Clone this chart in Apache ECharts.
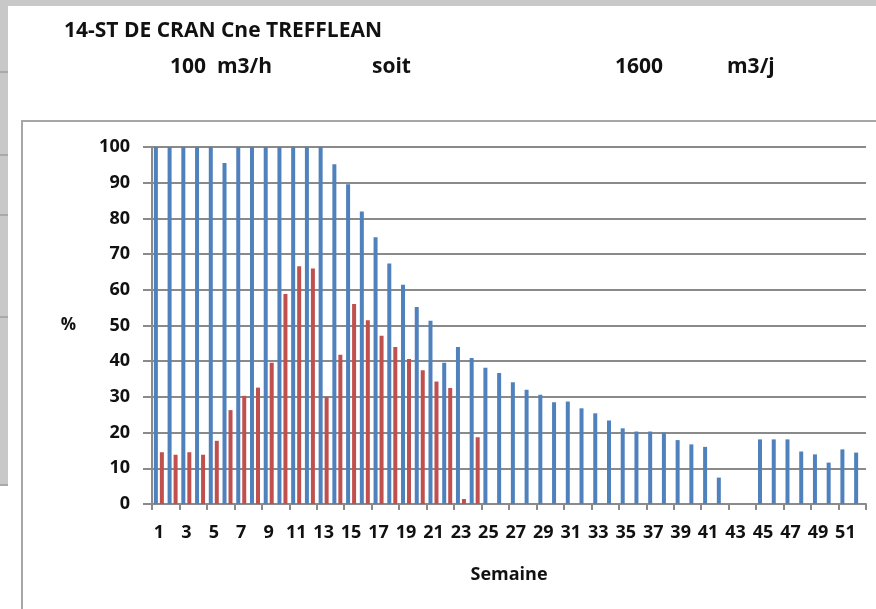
<!DOCTYPE html>
<html lang="fr">
<head>
    <meta charset="UTF-8">
    <title>14-ST DE CRAN Cne TREFFLEAN</title>
    <script src="https://cdn.jsdelivr.net/npm/echarts@6/dist/echarts.min.js"></script>
    <style>
        html, body { margin: 0; padding: 0; background: #fff; }
        #main { width: 876px; height: 609px; }
    </style>
</head>
<body>
<div id="main"></div>

<script>
    // semaines 1..52
    var semaines = [];
    for (var i = 1; i <= 52; i++) {
        semaines.push(String(i));
    }

    // serie bleue (%)
    var serieBleue = [
        100, 100, 100, 100, 100, 95.5, 100, 100, 100, 100,
        100, 100, 100, 95.2, 89.6, 81.9, 74.7, 67.4, 61.4, 55.2,
        51.3, 39.6, 44.0, 40.9, 38.2, 36.7, 34.1, 32.0, 30.6, 28.5,
        28.7, 26.8, 25.4, 23.4, 21.2, 20.3, 20.3, 20.0, 17.9, 16.7,
        16.0, 7.4, null, null, 18.1, 18.1, 18.1, 14.7, 13.9, 11.6,
        15.3, 14.4
    ];

    // serie rouge (%)
    var serieRouge = [
        14.5, 13.8, 14.5, 13.8, 17.7, 26.3, 30.3, 32.6, 39.6, 58.8,
        66.6, 66.0, 30.0, 41.8, 56.0, 51.5, 47.1, 44.0, 40.6, 37.5,
        34.3, 32.5, 1.4, 18.7
    ];

    var yTicks = [0, 100, 10]; // min, max, pas

    var font = '"Open Sans", Lato, sans-serif';
    var txt = '#111';

    var chartDom = document.getElementById('main');
    var myChart = echarts.init(chartDom);
    var option;

    option = {
        backgroundColor: '#fff',
        animation: false,
        graphic: [
            // bandes grises de la feuille
            { type: 'rect', shape: { x: 0, y: 0, width: 876, height: 6 }, style: { fill: '#c8c8c8' }, silent: true },
            { type: 'rect', shape: { x: 0, y: 0, width: 8, height: 486 }, style: { fill: '#c8c8c8' }, silent: true },
            { type: 'line', shape: { x1: 0, y1: 72, x2: 8, y2: 72 }, style: { stroke: '#8a8a8a', lineWidth: 1 } },
            { type: 'line', shape: { x1: 0, y1: 155, x2: 8, y2: 155 }, style: { stroke: '#8a8a8a', lineWidth: 1 } },
            { type: 'line', shape: { x1: 0, y1: 215, x2: 8, y2: 215 }, style: { stroke: '#8a8a8a', lineWidth: 1 } },
            { type: 'line', shape: { x1: 0, y1: 317, x2: 8, y2: 317 }, style: { stroke: '#8a8a8a', lineWidth: 1 } },
            { type: 'line', shape: { x1: 0, y1: 485, x2: 8, y2: 485 }, style: { stroke: '#8a8a8a', lineWidth: 1 } },
            // cadre du graphique
            {
                type: 'rect',
                shape: { x: 22, y: 121, width: 870, height: 500 },
                style: { fill: 'none', stroke: '#a6a6a6', lineWidth: 2 },
                silent: true
            },
            // textes de la feuille
            {
                type: 'text', left: 64, top: 21,
                style: { text: '14-ST DE CRAN Cne TREFFLEAN', font: 'bold 21px ' + font, fill: txt }
            },
            {
                type: 'text', left: 170, top: 57,
                style: { text: '100  m3/h', font: 'bold 21px ' + font, fill: txt }
            },
            {
                type: 'text', left: 372, top: 57,
                style: { text: 'soit', font: 'bold 21px ' + font, fill: txt }
            },
            {
                type: 'text', left: 615, top: 57,
                style: { text: '1600', font: 'bold 21px ' + font, fill: txt }
            },
            {
                type: 'text', left: 727, top: 57,
                style: { text: 'm3/j', font: 'bold 21px ' + font, fill: txt }
            }
        ],
        grid: {
            left: 152,
            right: 10,
            top: 147,
            bottom: 105
        },
        xAxis: {
            type: 'category',
            data: semaines,
            name: 'Semaine',
            nameLocation: 'middle',
            nameGap: 62,
            nameTextStyle: { fontFamily: font, fontWeight: 'bold', fontSize: 18, color: txt },
            axisLine: { lineStyle: { color: '#8a8a8a', width: 2 } },
            axisTick: { show: true, length: 6, lineStyle: { color: '#8a8a8a', width: 2 } },
            axisLabel: {
                interval: 1,
                margin: 20,
                fontFamily: font,
                fontWeight: 'bold',
                fontSize: 18,
                color: txt
            }
        },
        yAxis: {
            type: 'value',
            min: yTicks[0],
            max: yTicks[1],
            interval: yTicks[2],
            name: '%',
            nameLocation: 'middle',
            nameRotate: 0,
            nameGap: 76,
            nameTextStyle: { fontFamily: font, fontWeight: 'bold', fontSize: 17, color: txt },
            axisLine: { show: true, lineStyle: { color: '#8a8a8a', width: 2 } },
            axisTick: { show: true, length: 9, lineStyle: { color: '#8a8a8a', width: 2 } },
            splitLine: { lineStyle: { color: '#8a8a8a', width: 2 } },
            axisLabel: {
                margin: 22,
                fontFamily: font,
                fontWeight: 'bold',
                fontSize: 18,
                color: txt
            }
        },
        series: [
            {
                name: 'Série1',
                type: 'bar',
                data: serieBleue,
                barWidth: 4,
                barGap: '50%',
                itemStyle: { color: '#4f81bd' }
            },
            {
                name: 'Série2',
                type: 'bar',
                data: serieRouge,
                barWidth: 4,
                itemStyle: { color: '#c0504d' }
            }
        ]
    };

    option && myChart.setOption(option);
</script>
</body>
</html>
